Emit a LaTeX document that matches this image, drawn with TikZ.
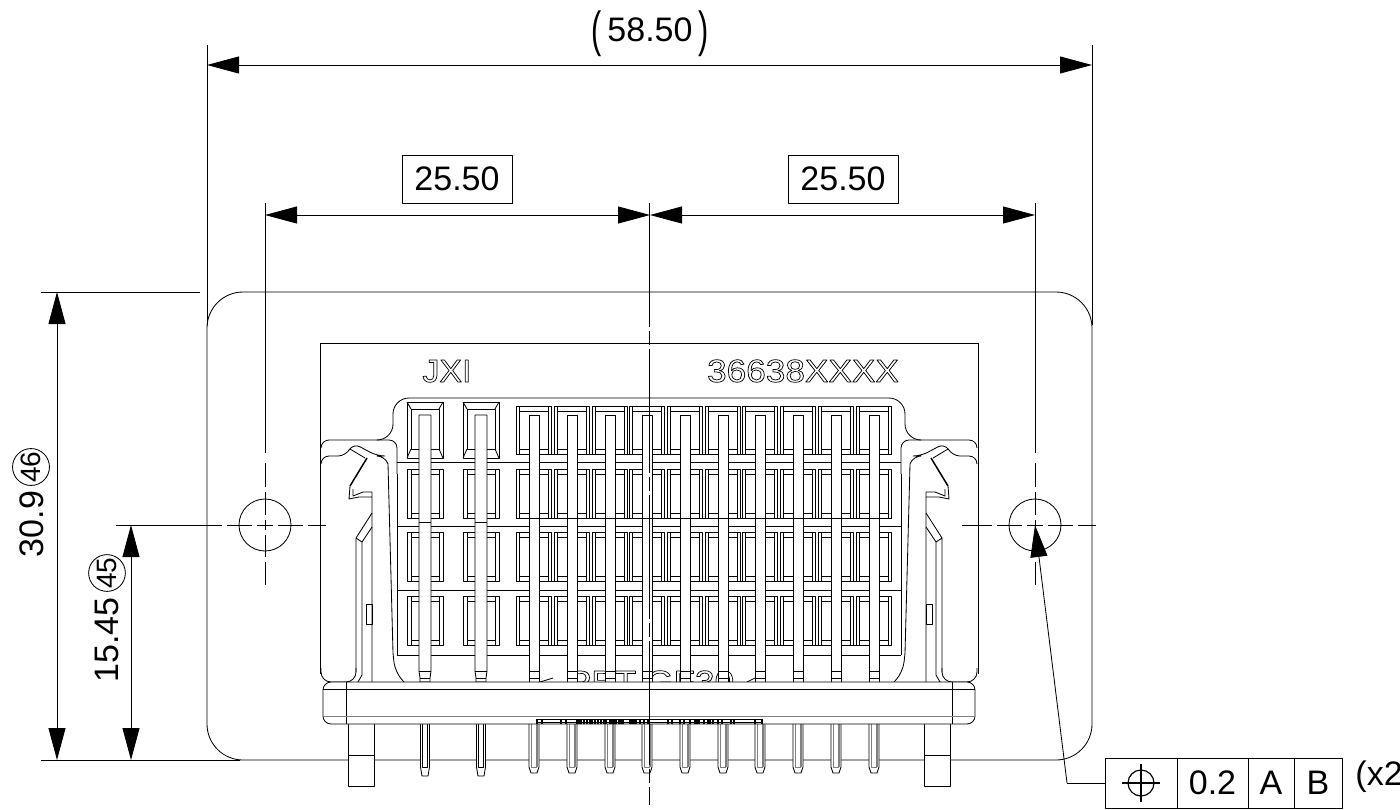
\documentclass[tikz,border=0pt]{standalone}
\usepackage{fontspec}
\setmainfont{Liberation Sans}
\usetikzlibrary{arrows.meta}
\tikzset{
    dimline/.style={<->,>={Triangle[length=16pt,width=8.5pt]}},
    thinline/.style={line width=.42pt},
    chain/.style={line width=.5pt,dash pattern=on 62pt off 2pt on 7pt off 2pt},
    dimbox/.style={draw,minimum width=55pt,minimum height=24pt,inner sep=0pt},
    fcfcell/.style={draw,minimum height=25pt,inner sep=0pt},
    balloon/.style={draw,circle,thinline,rotate=90,minimum size=17pt,inner sep=0pt,font=\fontsize{14}{14}\selectfont},
    pinbody/.style={fill=white}
}
\newcommand{\outl}[1]{\special{pdf:code 1 Tr 0.35 w}#1\special{pdf:code 0 Tr}}
\begin{document}
\begin{tikzpicture}[x=.5pt,y=-.5pt,line join=round,line width=.42pt,font=\fontsize{17}{18}\selectfont]
    \useasboundingbox (0,0) rectangle (1400,809);
    \coordinate (holeL) at (265,525);
    \coordinate (holeR) at (1035,525);
    \coordinate (mid) at (650,215);
    \coordinate (plateL) at (207,65);
    \coordinate (plateR) at (1092,65);
    % flange plate and extension lines
    \draw[rounded corners=18pt] (207,400)--(207,292)--(1092,292)--(1092,760)--(207,760)--cycle;
    \draw[thinline] (plateL)--++(0,-20) (plateL)--(207,325);
    \draw[thinline] (plateR)--++(0,-20) (plateR)--(1092,325);
    \draw[thinline] (41,292)--(200,292) (41,760)--(240,760) (116,525)--(192,525);
    % holes
    \foreach \hx/\hn in {265/a,1035/b}{
        \node[draw,circle,minimum size=26pt,inner sep=0pt] (hole\hn) at (\hx,525) {};
        \draw[thinline] (\hx-73,525)--(\hx-43,525) (\hx-38,525)--(\hx-13,525) (\hx-8,525)--(\hx+8,525) (\hx+13,525)--(\hx+38,525) (\hx+43,525)--(\hx+61,525);
        \draw[thinline] (\hx,203)--(\hx,453) (\hx,463)--(\hx,487) (\hx,492)--(\hx,515) (\hx,520)--(\hx,530) (\hx,535)--(\hx,557) (\hx,562)--(\hx,585);
    }
    % housing
    \draw (320,343)--(978,343) (320,343)--(320,674) (978,343)--(978,674);
    \draw[rounded corners=8pt] (378,440)--(393,440)--(393,398)--(905,398)--(905,440)--(920,440);
    \draw (397,462)--(901,462) (397,526)--(901,526) (397,590)--(901,590) (397,655)--(901,655);
    \foreach \ry in {454,518,581.5,645}{\draw (516,\ry)--(891,\ry);}
    \foreach \px in {425,481}{
        \draw (\px-18,402) rectangle (\px+18,458);
        \draw (\px-14,409) rectangle (\px+14,449);
        \draw (\px-18,402)--(\px-14,409) (\px+18,402)--(\px+14,409) (\px-18,458)--(\px-14,449) (\px+18,458)--(\px+14,449);
        \foreach \ry in {469,532.5,596}{
            \draw (\px-18,\ry) rectangle (\px+18,\ry+49);
            \draw (\px-14,\ry)--(\px-14,\ry+49) (\px+14,\ry)--(\px+14,\ry+49) (\px-14,\ry+5)--(\px+14,\ry+5) (\px-14,\ry+44)--(\px+14,\ry+44);
        }
    }
    \foreach \px in {534,572,610,647,685,723,760,798,836,874}{
        \draw (\px-18,406) rectangle (\px+17,454);
        \draw (\px-15,406)--(\px-15,454) (\px+14,406)--(\px+14,454) (\px-15,411)--(\px+14,411) (\px-15,449)--(\px+14,449);
        \foreach \ry in {469,532.5,596}{
            \draw (\px-18,\ry) rectangle (\px+17,\ry+49);
            \draw (\px-15,\ry)--(\px-15,\ry+49) (\px+14,\ry)--(\px+14,\ry+49) (\px-15,\ry+5)--(\px+14,\ry+5) (\px-15,\ry+44)--(\px+14,\ry+44);
        }
    }
    % moulded marks
    \node[anchor=base west,xscale=1.06,inner sep=0pt] (markL) at (422,382) {\fontsize{16}{18}\selectfont\outl{JXI}};
    \node[anchor=base,xscale=1.1] (markR) at (803,382) {\fontsize{16}{18}\selectfont\outl{36638XXXX}};
    \node[anchor=base,xscale=1.1,inner sep=0pt] (markM) at (651,693) {\fontsize{16}{18}\selectfont\outl{PBT-GF30}};
    \draw (540,682)--(553,678) (755,678)--(747,682);
    % contacts
    \foreach \px in {425,481}{
        \draw[pinbody] (\px-6,415)--(\px-6,671)--(\px-5,678)--(\px-5,682)--(\px+5,682)--(\px+5,678)--(\px+6,671)--(\px+6,415)--cycle;
        \draw (\px-6,522)--(\px+6,522) (\px-6,671)--(\px+6,671) (\px-5,678)--(\px+5,678);
        \draw[pinbody] (\px-4.5,724)--(\px-4.5,767)--(\px-3,776)--(\px+3,776)--(\px+4.5,767)--(\px+4.5,724);
        \draw[thinline] (\px-2.5,724)--(\px-2.5,767)--(\px+2.5,767)--(\px+2.5,724);
    }
    \foreach \px in {534,572,610,647,685,723,760,798,836,874}{
        \draw[pinbody] (\px-5,415) rectangle (\px+5,682);
        \draw (\px-5,518)--(\px+5,518) (\px-5,671)--(\px+5,671) (\px-5,678)--(\px+5,678);
        \draw[pinbody] (\px-5,724)--(\px-5,767)--(\px-3,773)--(\px+3,773)--(\px+5,767)--(\px+5,724);
        \draw[thinline,draw=gray] (\px-2.5,724)--(\px-2.5,767)--(\px+2.5,767);
        \draw[draw=gray,line width=.9pt] (\px+3,724)--(\px+3,767);
    }
    % latches
    \foreach \m in {1,-1}{
        \begin{scope}[shift={(649,0)},xscale=\m,shift={(-649,0)}]
            \draw[rounded corners=4pt] (321,448)--(321,440)--(397,440)--(397,474);
            \draw (397,474)--(397,655);
            \draw[rounded corners=4pt] (321,464)--(321,456)--(346,456)--(353,443)--(377,456)--(385,456)--(388,464);
            \draw (388,464)--(393,653);
            \draw[rounded corners=5pt] (393,653)--(395,672)--(404,682);
            \draw (350,449)--(365,458);
            \draw[line width=.75pt] (367,458)--(350,486);
            \draw (350,486)--(349,499)--(359,497)--(372,497) (353,489)--(353,496)--(363,492)--(372,492)--(372,682);
            \draw (372,513)--(356,538)--(356,672) (372,527)--(362,542)--(362,675)--(358,682) (356,538)--(362,542);
            \draw[rounded corners=5pt] (321,668)--(321,682)--(356,682)--(356,668);
            \draw (366,604) rectangle (372,624);
            % flange foot
            \draw[fill=white] (348,724)--(348,786)--(374,786)--(374,724);
            \draw (348,755)--(374,755);
        \end{scope}
    }
    % flange
    \draw[fill=white,rounded corners=4pt] (323,682) rectangle (975,724);
    \draw (323,689)--(975,689) (346,682)--(346,724) (952,682)--(952,724);
    \draw[draw=gray,line width=.9pt] (323,716.5)--(975,716.5);
    \draw (537,722)--(763,722) (537,719)--(763,719);
    \foreach \tk in {537,542,561,566,577,579,581,584,587,590,592,595,598,601,604,606,610,612,614,616,619,621,623,630,632,634,636,640,644,648,668,672,680,684,690,695,697,699,704,708,710,713,718,722,731,734,755,762}{
        \draw[line width=.6pt] (\tk,719)--(\tk,724);
    }
    % centre line
    \draw[chain] (649.5,203)--(649.5,805);
    % dimensions
    \draw[dimline] (plateL)--(plateR);
    \draw[dimline] (holeL|-mid)--(mid);
    \draw[dimline] (mid)--(holeR|-mid);
    \draw[dimline] (57,292)--(57,760);
    \draw[dimline] (131,525)--(131,760);
    % texts
    \node (dimW) at (650,34) {\raisebox{-2.5pt}{\scalebox{.9}[1.45]{(}}\,58.50\,\raisebox{-2.5pt}{\scalebox{.9}[1.45]{)}}};
    \node[dimbox] (dimA) at (457,179) {25.50};
    \node[dimbox] (dimB) at (843,179) {25.50};
    \node[rotate=90] (dimH) at (32,524) {30.9};
    \node[balloon] (ballonH) at (31,467) {46};
    \node[rotate=90] (dimC) at (107,640) {15.45};
    \node[balloon] (ballonC) at (107,573) {45};
    % frame
    \node[fcfcell,minimum width=36pt] (fcfsym) at (1141,783) {};
    \node[fcfcell,minimum width=35.5pt] (fcfval) at (1212.5,783) {0.2};
    \node[fcfcell,minimum width=23pt] (fcfA) at (1271,783) {A};
    \node[fcfcell,minimum width=24pt] (fcfB) at (1318,783) {B};
    \draw[line width=.6pt] (fcfsym.center) circle[radius=6.5pt];
    \draw[line width=.55pt] ([xshift=-9.5pt]fcfsym.center)--([xshift=9.5pt]fcfsym.center) ([yshift=-9.5pt]fcfsym.center)--([yshift=9.5pt]fcfsym.center);
    \node[anchor=base west,inner sep=0pt] (note) at (1355,785) {(x2};
    % leader
    \coordinate (lead) at (1067,783);
    \draw[thinline,-{Triangle[length=16pt,width=8.5pt]}] (lead)--(holeR);
    \draw[thinline] (lead)--(fcfsym.west);
\end{tikzpicture}
\end{document}
